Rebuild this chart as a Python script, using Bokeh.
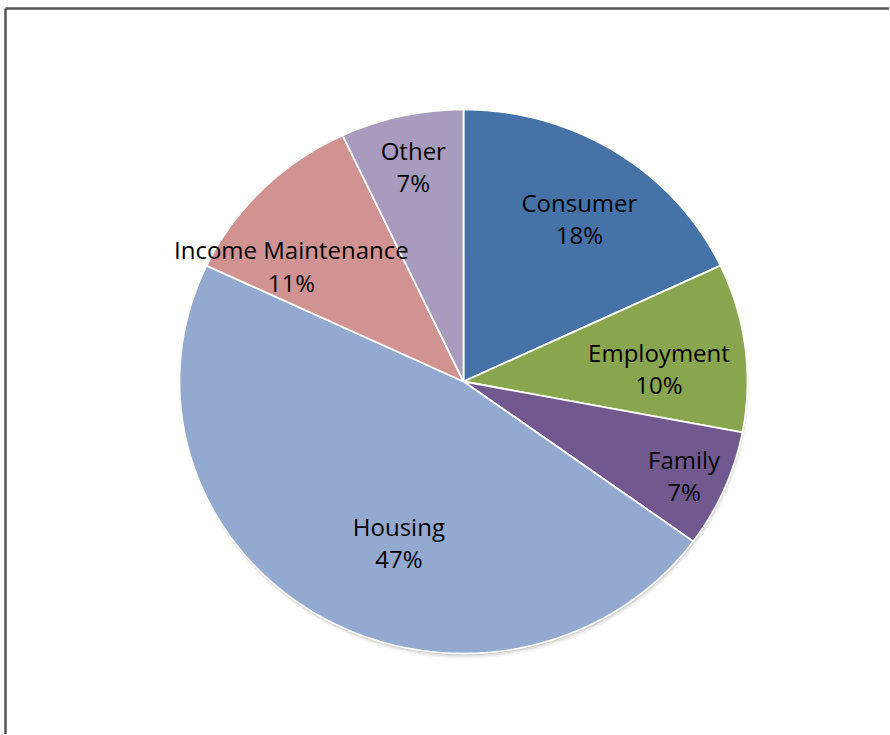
import numpy as np
from bokeh.plotting import figure
from bokeh.models import Range1d, ColumnDataSource
from bokeh.core.properties import value
from bokeh.embed import file_html
from bokeh.resources import INLINE

# ---- data ----
categories = ["Consumer", "Employment", "Family", "Housing", "Income Maintenance", "Other"]
shares = [18, 10, 7, 47, 11, 7]
colors = ["#4572A7", "#89A54E", "#71588F", "#93A9CF", "#D19392", "#A99BBD"]

# ---- layout (label placement: radial fraction, angle tweak in degrees) ----
label_r = {"Consumer": 0.726, "Employment": 0.69, "Family": 0.85,
           "Housing": 0.635, "Income Maintenance": 0.74, "Other": 0.81}
label_dang = {"Consumer": 1.8, "Employment": 3.2, "Family": 0.6,
              "Housing": -9.6, "Income Maintenance": -10.0, "Other": 0.0}

W, H = 889, 734
X0, Y0 = 1, 1
CX, CY, RX, RY = 464, 382, 284, 272

p = figure(width=W, height=H, output_backend="svg", toolbar_location=None,
           x_range=Range1d(X0, X0 + W), y_range=Range1d(Y0 + H, Y0),
           min_border=0)
p.axis.visible = False
p.grid.visible = False
p.outline_line_color = None
p.background_fill_color = "white"
p.border_fill_color = "white"

# frame lines (extending off the page right/bottom)
p.line([6, 6], [Y0 + H + 5, 9], line_color="#555555", line_width=2.5)
p.line([6, X0 + W + 5], [9, 9], line_color="#555555", line_width=2.5)

total = float(sum(shares))

# subtle shadow
t = np.linspace(0, 2 * np.pi, 360)
for off, a in [(5, 0.05), (3, 0.08), (1.5, 0.1)]:
    p.patch(CX + off * 0.3 + RX * np.sin(t), CY + off + RY * np.cos(t),
            fill_color="black", fill_alpha=a, line_color=None)

xs, ys, lx, ly, texts = [], [], [], [], []
cum = 0.0
for cat, v in zip(categories, shares):
    a0 = cum / total * 2 * np.pi
    cum += v
    a1 = cum / total * 2 * np.pi
    ang = np.linspace(a0, a1, max(8, int(v * 6)))
    px = [CX] + list(CX + RX * np.sin(ang))
    py = [CY] + list(CY - RY * np.cos(ang))
    xs.append(px)
    ys.append(py)
    mid = (a0 + a1) / 2 + np.deg2rad(label_dang[cat])
    r = label_r[cat]
    lx.append(CX + r * RX * np.sin(mid))
    ly.append(CY - r * RY * np.cos(mid))
    texts.append(f"{cat}\n{round(v / total * 100)}%")

src = ColumnDataSource(dict(xs=xs, ys=ys, color=colors))
p.patches("xs", "ys", source=src, fill_color="color", line_color="white", line_width=1.8)

lsrc = ColumnDataSource(dict(x=lx, y=ly, t=texts))
p.text("x", "y", text="t", source=lsrc, text_font=value("Open Sans"),
       text_font_size="24px", text_color="black", text_align="center",
       text_baseline="middle", text_line_height=0.98)

open("out.html", "w").write(file_html(p, INLINE))
